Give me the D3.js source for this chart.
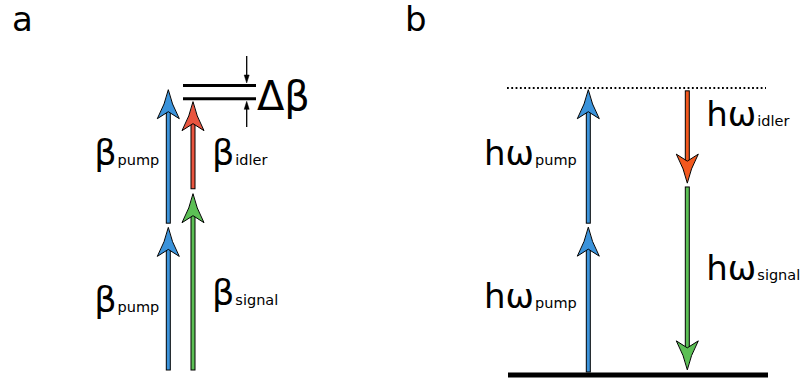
<!DOCTYPE html>
<html>
<head>
<meta charset="utf-8">
<script src="https://cdn.jsdelivr.net/npm/d3@7"></script>
<style>
  html, body { margin: 0; padding: 0; background: #fff; }
  svg { display: block; font-family: "DejaVu Sans", Verdana, sans-serif; }
</style>
</head>
<body>
<svg id="chart" width="803" height="378"></svg>
<script>
// Panel (a): propagation constants, panel (b): photon energies (pump units)
const panelNames = ["a", "b"];

// Arrows in panel a: start level, end level, colour key
const arrowsA = [
  { name: "pump",   from: 0.0,   to: 1.015, colour: "pump"   },
  { name: "pump",   from: 1.045, to: 1.995, colour: "pump"   },
  { name: "signal", from: 0.0,   to: 1.255, colour: "signal" },
  { name: "idler",  from: 1.29,  to: 1.91,  colour: "idlerA" }
];
const columnsA = ["pump", "mixed"];
const arrowColumnA = ["pump", "pump", "mixed", "mixed"];

// Phase-mismatch levels (upper = 2·β_pump, lower = β_signal + β_idler)
const mismatchLevels = [2.025, 1.93];

// Arrows in panel b (energy conservation)
const arrowsB = [
  { name: "pump",   from: 0.0,   to: 1.02,  colour: "pump"   },
  { name: "pump",   from: 1.048, to: 1.988, colour: "pump"   },
  { name: "idler",  from: 1.98,  to: 1.33,  colour: "idlerB" },
  { name: "signal", from: 1.303, to: 0.015, colour: "signal" }
];
const columnsB = ["pump", "emitted"];
const arrowColumnB = ["pump", "pump", "emitted", "emitted"];

// Energy levels in panel b: ground and virtual
const groundLevel = 0;
const virtualLevel = 2;

// Labels: main symbol, subscript, column, level of the text baseline
const labelsA = [
  { main: "β", sub: "pump",   col: "pump",  level: 1.459 },
  { main: "β", sub: "pump",   col: "pump",  level: 0.415 },
  { main: "β", sub: "idler",  col: "mixed", level: 1.459 },
  { main: "β", sub: "signal", col: "mixed", level: 0.46  }
];
const labelsB = [
  { main: "hω", sub: "pump",   col: "pump",    level: 1.455 },
  { main: "hω", sub: "pump",   col: "pump",    level: 0.45  },
  { main: "hω", sub: "idler",  col: "emitted", level: 1.73  },
  { main: "hω", sub: "signal", col: "emitted", level: 0.65  }
];
const mismatchLabel = "Δβ";

const colours = {
  pump:   "#3b93db",
  signal: "#5cbf55",
  idlerA: "#e9553f",
  idlerB: "#f2581e"
};

const svg = d3.select("#chart");

// Vertical scales
const yA = d3.scaleLinear().domain([0, 2]).range([370, 89]);
const yB = d3.scaleLinear().domain([0, 2]).range([372, 88]);

// Horizontal column positions
const xA = d3.scalePoint().domain(columnsA).range([168.3, 193]);
const xB = d3.scalePoint().domain(columnsB).range([588.3, 687.3]);

// Notched arrow head, tip at origin pointing up
const headLen = 29, headHalf = 11, notch = 7;
function headPath() {
  const p = d3.path();
  p.moveTo(0, 0);
  p.quadraticCurveTo(3, 14, headHalf, headLen);
  p.lineTo(0, headLen - notch);
  p.lineTo(-headHalf, headLen);
  p.quadraticCurveTo(-3, 14, 0, 0);
  p.closePath();
  return p.toString();
}

function drawArrows(g, arrows, cols, x, y) {
  const shaftW = 4;
  const grp = g.selectAll("g.arrow").data(arrows).join("g").attr("class", "arrow");
  grp.each(function (d, i) {
    const sel = d3.select(this);
    const cx = x(cols[i]);
    const up = d.to > d.from;
    const y0 = y(d.from), y1 = y(d.to);
    const dir = up ? 1 : -1;
    const headBase = y1 + dir * (headLen - notch - 1);
    const top = Math.min(y0, headBase), bot = Math.max(y0, headBase);
    sel.append("rect")
      .attr("x", cx - shaftW / 2).attr("y", top)
      .attr("width", shaftW).attr("height", bot - top)
      .attr("fill", colours[d.colour]).attr("stroke", "#000").attr("stroke-width", 1);
    sel.append("path")
      .attr("d", headPath())
      .attr("transform", `translate(${cx},${y1}) rotate(${up ? 0 : 180})`)
      .attr("fill", colours[d.colour]).attr("stroke", "#000").attr("stroke-width", 1)
      .attr("stroke-linejoin", "miter");
  });
}

// Label with a subscript on the same baseline
function drawLabels(g, labels, x, y, dx, anchor, mainSize, subSize) {
  const t = g.selectAll("text.lbl").data(labels).join("text")
    .attr("class", "lbl")
    .attr("x", d => x(d.col) + dx)
    .attr("y", d => y(d.level))
    .attr("text-anchor", anchor)
    .attr("fill", "#000");
  t.append("tspan").attr("font-size", mainSize).text(d => d.main);
  t.append("tspan").attr("font-size", subSize).attr("dx", 1).text(d => d.sub);
}

// ---- Panel a ----
const gA = svg.append("g");
gA.append("text").attr("x", 12).attr("y", 31).attr("font-size", 34).text(panelNames[0]);

gA.selectAll("line.level").data(mismatchLevels).join("line")
  .attr("class", "level")
  .attr("x1", 183).attr("x2", 256)
  .attr("y1", d => yA(d)).attr("y2", d => yA(d))
  .attr("stroke", "#000").attr("stroke-width", 3);

drawArrows(gA, arrowsA, arrowColumnA, xA, yA);

// Δβ indicator arrows
const dbx = 246.7;
const small = gA.append("g").attr("stroke", "#000").attr("fill", "#000");
const smallHead = (tipY, dir) => `M${dbx},${tipY} L${dbx - 2.5},${tipY - dir * 8} L${dbx + 2.5},${tipY - dir * 8} Z`;
const topTip = yA(mismatchLevels[0]) - 2.5;
const botTip = yA(mismatchLevels[1]) + 2.5;
small.append("line").attr("x1", dbx).attr("x2", dbx).attr("y1", 56).attr("y2", topTip - 6).attr("stroke-width", 1.3);
small.append("path").attr("d", smallHead(topTip, 1)).attr("stroke-width", 0.5);
small.append("line").attr("x1", dbx).attr("x2", dbx).attr("y1", botTip + 6).attr("y2", 127).attr("stroke-width", 1.3);
small.append("path").attr("d", smallHead(botTip, -1)).attr("stroke-width", 0.5);

gA.append("text").attr("x", 257).attr("y", 110).attr("font-size", 40).text(mismatchLabel);

drawLabels(gA, labelsA.filter(d => d.col === "pump"), xA, yA, -9, "end", 35, 14.5);
drawLabels(gA.append("g"), labelsA.filter(d => d.col === "mixed"), xA, yA, 19, "start", 35, 14.5);

// ---- Panel b ----
const gB = svg.append("g");
gB.append("text").attr("x", 405).attr("y", 31).attr("font-size", 34).text(panelNames[1]);

gB.append("line")
  .attr("x1", 507).attr("x2", 766)
  .attr("y1", yB(virtualLevel)).attr("y2", yB(virtualLevel))
  .attr("stroke", "#000").attr("stroke-width", 2).attr("stroke-dasharray", "1.8,2.5");

gB.append("line")
  .attr("x1", 508).attr("x2", 768)
  .attr("y1", yB(groundLevel) + 3).attr("y2", yB(groundLevel) + 3)
  .attr("stroke", "#000").attr("stroke-width", 5);

drawArrows(gB, arrowsB, arrowColumnB, xB, yB);

drawLabels(gB, labelsB.filter(d => d.col === "pump"), xB, yB, -11.5, "end", 34, 14.5);
drawLabels(gB.append("g"), labelsB.filter(d => d.col === "emitted"), xB, yB, 19, "start", 34, 14.5);
</script>
</body>
</html>
